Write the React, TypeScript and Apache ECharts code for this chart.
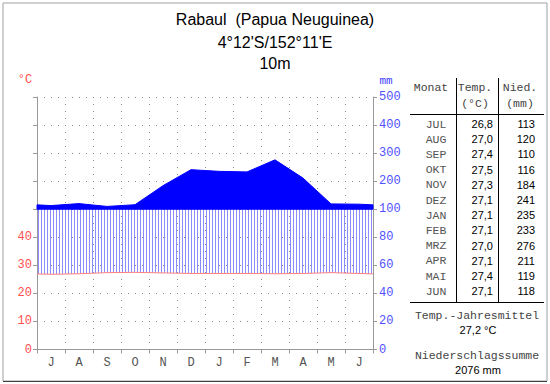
import React, { useEffect, useRef } from "react";
import * as echarts from "echarts";

const monthLabels = ["J", "A", "S", "O", "N", "D", "J", "F", "M", "A", "M", "J"];
const tableMonths = ["JUL", "AUG", "SEP", "OKT", "NOV", "DEZ", "JAN", "FEB", "MRZ", "APR", "MAI", "JUN"];
const temps = [26.8, 27.0, 27.4, 27.5, 27.3, 27.1, 27.1, 27.1, 27.0, 27.1, 27.4, 27.1];
const precip = [113, 120, 110, 116, 184, 241, 235, 233, 276, 211, 119, 118];
const leftTicks = [0, 10, 20, 30, 40];

const MONO = "'Liberation Mono', 'DejaVu Sans Mono', monospace";
const SANS = "'Liberation Sans', Arial, sans-serif";

// precipitation -> display scale (temperature units): 20 mm = 10 °C up to 100 mm, then 100 mm = 10 units
const pDisp = (p: number) => (p <= 100 ? p / 2 : 50 + (p - 100) / 10);
const fmtDE = (v: number, d: number) => v.toFixed(d).replace(".", ",");

export default function App() {
  const ref = useRef<HTMLDivElement>(null);
  useEffect(() => {
    document.body.style.margin = "0";
    const chart = echarts.init(ref.current!, null, { renderer: "svg" });
    const n = temps.length;
    // cyclic extension to both edges of the plot
    const tEdge = (temps[0] + temps[n - 1]) / 2;
    const pEdge = (pDisp(precip[0]) + pDisp(precip[n - 1])) / 2;
    const xs = [0, ...temps.map((_, i) => i + 0.5), n];
    const ts = [tEdge, ...temps, tEdge];
    const ps = [pEdge, ...precip.map(pDisp), pEdge];
    const interp = (arr: number[], x: number) => {
      for (let i = 0; i < xs.length - 1; i++) {
        if (x >= xs[i] && x <= xs[i + 1]) {
          const f = (x - xs[i]) / (xs[i + 1] - xs[i]);
          return arr[i] + f * (arr[i + 1] - arr[i]);
        }
      }
      return arr[arr.length - 1];
    };

    const mean = temps.reduce((a, b) => a + b, 0) / n;
    const sum = precip.reduce((a, b) => a + b, 0);

    const rowY0 = 124;
    const rowStep = 15.2;
    const tableTexts: any[] = [];
    tableMonths.forEach((m, i) => {
      const y = rowY0 + i * rowStep;
      tableTexts.push({ type: "text", x: 436, y, style: { text: m, font: `11.5px ${MONO}`, fill: "#555", textAlign: "center", textVerticalAlign: "middle" } });
      tableTexts.push({ type: "text", x: 493, y, style: { text: fmtDE(temps[i], 1), font: `11px ${SANS}`, fill: "#000", textAlign: "right", textVerticalAlign: "middle" } });
      tableTexts.push({ type: "text", x: 535, y, style: { text: String(precip[i]), font: `11px ${SANS}`, fill: "#000", textAlign: "right", textVerticalAlign: "middle" } });
    });

    const center = (text: string, x: number, y: number, font: string, fill: string) => ({
      type: "text", x, y, style: { text, font, fill, textAlign: "center", textVerticalAlign: "middle" },
    });

    const option: any = {
      animation: false,
      grid: { left: 37, top: 97, width: 336, height: 252.5, containLabel: false },
      xAxis: [
        {
          type: "category",
          data: monthLabels.map((_, i) => String(i)),
          boundaryGap: true,
          axisLine: { lineStyle: { color: "#999" } },
          axisTick: { show: true, alignWithLabel: false, length: 4, lineStyle: { color: "#999" } },
          axisLabel: { formatter: (_v: string, i: number) => monthLabels[i], color: "#555", fontFamily: MONO, fontSize: 12, margin: 7 },
          splitLine: { show: true, lineStyle: { color: "#888", type: [1, 6] } },
        },
        { type: "value", min: 0, max: 12, show: false },
      ],
      yAxis: [
        {
          type: "value", min: 0, max: 90, interval: 10, position: "left",
          axisLine: { show: true, lineStyle: { color: "#999" } },
          axisTick: { show: true, length: 4, lineStyle: { color: "#999" } },
          axisLabel: { formatter: (v: number) => (leftTicks.includes(v) ? String(v) : ""), color: "#ff5050", fontFamily: MONO, fontSize: 12, margin: 5 },
          splitLine: { show: true, lineStyle: { color: "#888", type: [1, 6] } },
        },
        {
          type: "value", min: 0, max: 90, interval: 10, position: "right",
          axisLine: { show: true, lineStyle: { color: "#999" } },
          axisTick: { show: true, length: 4, lineStyle: { color: "#999" } },
          axisLabel: { formatter: (v: number) => String(v <= 50 ? v * 2 : (v - 50) * 10 + 100), color: "#5050ff", fontFamily: MONO, fontSize: 12, margin: 6 },
          splitLine: { show: false },
        },
      ],
      series: [
        {
          type: "custom",
          xAxisIndex: 1,
          yAxisIndex: 0,
          data: [[0, 0]],
          silent: true,
          renderItem: (params: any, api: any) => {
            const cs = params.coordSys;
            const children: any[] = [];
            // humid hatching between temperature and min(precip, 100 mm)
            for (let px = cs.x + 1.5; px < cs.x + cs.width; px += 3) {
              const dx = ((px - cs.x) / cs.width) * n;
              const t = interp(ts, dx);
              const top = Math.min(interp(ps, dx), 50);
              if (top > t) {
                const a = api.coord([dx, t]);
                const b = api.coord([dx, top]);
                children.push({ type: "line", shape: { x1: px, y1: a[1], x2: px, y2: b[1] }, style: { stroke: "#8c8cff", lineWidth: 1 } });
              }
            }
            // perhumid part above 100 mm
            const poly: number[][] = [];
            xs.forEach((x, i) => poly.push(api.coord([x, Math.max(ps[i], 50)])));
            for (let i = xs.length - 1; i >= 0; i--) poly.push(api.coord([xs[i], 50]));
            children.push({ type: "polygon", shape: { points: poly }, style: { fill: "#0000ff", stroke: "#0000ff", lineWidth: 1 } });
            // temperature line
            children.push({
              type: "polyline",
              shape: { points: xs.map((x, i) => api.coord([x, ts[i]])) },
              style: { stroke: "#ff8080", lineWidth: 1, fill: null },
            });
            return { type: "group", children };
          },
        },
      ],
      graphic: [
        { type: "rect", shape: { x: 3, y: 3, width: 544, height: 378 }, style: { fill: "none", stroke: "#a0a0a0", lineWidth: 1 } },
        { type: "line", shape: { x1: 3, y1: 381.5, x2: 547, y2: 381.5 }, style: { stroke: "#404040", lineWidth: 1 } },
        center("Rabaul  (Papua Neuguinea)", 275, 19, `16px ${SANS}`, "#000"),
        center("4°12'S/152°11'E", 275, 42, `16px ${SANS}`, "#000"),
        center("10m", 275, 63, `16px ${SANS}`, "#000"),
        center("°C", 25, 80, `12px ${MONO}`, "#ff5050"),
        center("mm", 386, 81, `11px ${MONO}`, "#4040ff"),
        center("Monat", 431, 87, `11.5px ${MONO}`, "#444"),
        center("Temp.", 475, 87, `11.5px ${MONO}`, "#444"),
        center("(°C)", 475, 103, `11.5px ${MONO}`, "#444"),
        center("Nied.", 520, 87, `11.5px ${MONO}`, "#444"),
        center("(mm)", 520, 103, `11.5px ${MONO}`, "#444"),
        { type: "line", shape: { x1: 456.5, y1: 78, x2: 456.5, y2: 302 }, style: { stroke: "#000", lineWidth: 1 } },
        { type: "line", shape: { x1: 498.5, y1: 78, x2: 498.5, y2: 302 }, style: { stroke: "#000", lineWidth: 1 } },
        { type: "line", shape: { x1: 410, y1: 114.5, x2: 544, y2: 114.5 }, style: { stroke: "#000", lineWidth: 1 } },
        { type: "line", shape: { x1: 410, y1: 302.5, x2: 544, y2: 302.5 }, style: { stroke: "#000", lineWidth: 1 } },
        ...tableTexts,
        center("Temp.-Jahresmittel", 477, 315, `11.5px ${MONO}`, "#444"),
        center(`${fmtDE(mean, 1)} °C`, 478, 330, `11px ${SANS}`, "#000"),
        center("Niederschlagssumme", 477, 355, `11.5px ${MONO}`, "#444"),
        center(`${sum} mm`, 478, 370, `11px ${SANS}`, "#000"),
      ],
    };
    chart.setOption(option);
    return () => chart.dispose();
  }, []);
  return <div ref={ref} style={{ width: 550, height: 384 }} />;
}
